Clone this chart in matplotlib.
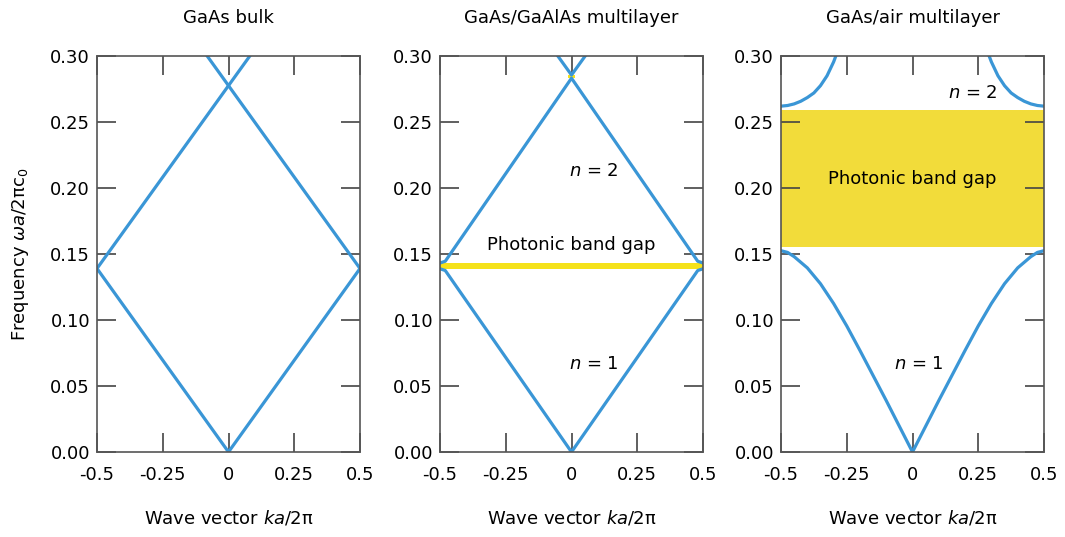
import numpy as np
import matplotlib.pyplot as plt

# panel titles
titles = ["GaAs bulk", "GaAs/GaAlAs multilayer", "GaAs/air multilayer"]

# GaAs bulk: folded light lines (k, frequency)
bulk_k1 = [-0.5, 0.0, 0.5]
bulk_f1 = [0.139, 0.0, 0.139]
bulk_k2 = [-0.5, 0.081]
bulk_f2 = [0.139, 0.300]
bulk_k3 = [-0.081, 0.5]
bulk_f3 = [0.300, 0.139]

# GaAs/GaAlAs multilayer
ml_k1 = [-0.5, -0.48, 0.0, 0.48, 0.5]
ml_f1 = [0.1388, 0.1375, 0.0, 0.1375, 0.1388]
ml_k2 = [-0.5, -0.48, 0.0, 0.48, 0.5]
ml_f2 = [0.1432, 0.1445, 0.2832, 0.1445, 0.1432]
ml_k3 = [-0.052, 0.0, 0.052]
ml_f3 = [0.300, 0.2856, 0.300]
ml_gap1 = (0.1388, 0.1432)
ml_gap2 = (0.2832, 0.2856)

# GaAs/air multilayer, right half of band 1 (mirrored) and left branch of band 2
air_k1 = [0.0, 0.05, 0.1, 0.15, 0.2, 0.25, 0.3, 0.35, 0.4, 0.45, 0.475, 0.5]
air_f1 = [0.0, 0.0195, 0.039, 0.058, 0.077, 0.0955, 0.1125, 0.1275, 0.1395,
          0.148, 0.1512, 0.1525]
air_k2 = [-0.5, -0.475, -0.45, -0.425, -0.4, -0.375, -0.35, -0.325, -0.3, -0.28]
air_f2 = [0.262, 0.2625, 0.2637, 0.2657, 0.2685, 0.272, 0.2775, 0.285, 0.2955, 0.306]
air_gap = (0.155, 0.259)

xticks = [-0.5, -0.25, 0, 0.25, 0.5]
xticklabels = ["-0.5", "-0.25", "0", "0.25", "0.5"]
yticks = [0.0, 0.05, 0.10, 0.15, 0.20, 0.25, 0.30]

blue = "#3a96d6"
lw = 2.3
fs = 13

plt.rcParams['font.family'] = ['DejaVu Sans']
fig = plt.figure(figsize=(10.65, 5.37), dpi=100)
lefts = [97, 440, 781]
axes = []
for i, l in enumerate(lefts):
    ax = fig.add_axes([l / 1065, 85 / 537, 263 / 1065, 396 / 537])
    axes.append(ax)
    ax.set_xlim(-0.5, 0.5)
    ax.set_ylim(0, 0.30)
    ax.set_xticks(xticks)
    ax.set_xticklabels(xticklabels)
    ax.set_yticks(yticks)
    ax.set_yticklabels(["%.2f" % v for v in yticks])
    ax.tick_params(direction='in', length=14, width=1.2, color='#444444',
                   top=True, right=True, labelsize=fs)
    ax.tick_params(axis='x', pad=10)
    ax.tick_params(axis='y', pad=5)
    for s in ax.spines.values():
        s.set_color('#555555')
        s.set_linewidth(1.2)
    ax.set_title(titles[i], fontsize=fs, pad=24)
    ax.set_xlabel(r"Wave vector $\mathit{ka}$/2π", fontsize=fs, labelpad=18)

axes[0].set_ylabel(r"Frequency $\mathit{\omega a}$/2πc$_0$", fontsize=fs, labelpad=14)

# GaAs bulk
ax = axes[0]
ax.plot(bulk_k1, bulk_f1, color=blue, lw=lw)
ax.plot(bulk_k2, bulk_f2, color=blue, lw=lw)
ax.plot(bulk_k3, bulk_f3, color=blue, lw=lw)

# GaAs/GaAlAs
ax = axes[1]
ax.axhspan(ml_gap1[0], ml_gap1[1], color='#f5e21a', lw=0)
ax.fill_between([-0.012, 0.012], ml_gap2[0], ml_gap2[1], color='#f5e21a', lw=0)
ax.plot(ml_k1, ml_f1, color=blue, lw=lw)
ax.plot(ml_k2, ml_f2, color=blue, lw=lw)
ax.plot(ml_k3, ml_f3, color=blue, lw=lw)
ax.text(0, 0.157, "Photonic band gap", ha='center', va='center', fontsize=fs)
ax.text(0.085, 0.213, r"$\mathit{n}$ = 2", ha='center', va='center', fontsize=fs)
ax.text(0.085, 0.067, r"$\mathit{n}$ = 1", ha='center', va='center', fontsize=fs)

# GaAs/air
ax = axes[2]
ax.axhspan(air_gap[0], air_gap[1], color='#f2dc3a', lw=0)
k1 = [-k for k in air_k1[::-1]] + air_k1[1:]
f1 = air_f1[::-1] + air_f1[1:]
ax.plot(k1, f1, color=blue, lw=lw)
ax.plot(air_k2, air_f2, color=blue, lw=lw)
ax.plot([-k for k in air_k2], air_f2, color=blue, lw=lw)
ax.text(0, 0.207, "Photonic band gap", ha='center', va='center', fontsize=fs)
ax.text(0.23, 0.272, r"$\mathit{n}$ = 2", ha='center', va='center', fontsize=fs)
ax.text(0.025, 0.067, r"$\mathit{n}$ = 1", ha='center', va='center', fontsize=fs)

fig.savefig("out.png", dpi=100)
